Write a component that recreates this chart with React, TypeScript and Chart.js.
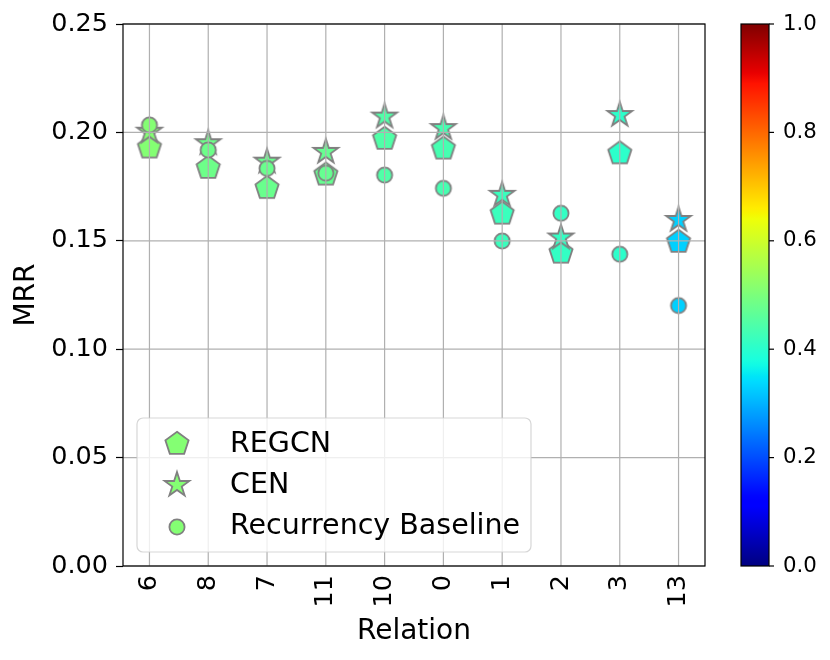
import React, { useEffect, useRef } from 'react';
import { Chart, registerables } from 'chart.js';

Chart.register(...registerables);

const categories = ['6', '8', '7', '11', '10', '0', '1', '2', '3', '13'];
const regcn = [0.193, 0.1836, 0.1743, 0.1805, 0.197, 0.1925, 0.1625, 0.1445, 0.1903, 0.1495];
const cen = [0.2003, 0.195, 0.1865, 0.191, 0.2073, 0.202, 0.1712, 0.1515, 0.208, 0.1596];
const recurrency = [0.2034, 0.1919, 0.1834, 0.1812, 0.1803, 0.1742, 0.1499, 0.1627, 0.1438, 0.1201];
const colorValues = [0.51, 0.483, 0.478, 0.474, 0.447, 0.435, 0.42, 0.412, 0.403, 0.329];
const yTicks = [0, 0.05, 0.1, 0.15, 0.2, 0.25];
const colorbarTicks = [0, 0.2, 0.4, 0.6, 0.8, 1.0];
const seriesNames = ['REGCN', 'CEN', 'Recurrency Baseline'];
const seriesShapes = ['pentagon', 'star', 'circle'];

const FONT = "'DejaVu Sans', sans-serif";

type Seg = [number, number][];
const jetR: Seg = [[0, 0], [0.35, 0], [0.66, 1], [0.89, 1], [1, 0.5]];
const jetG: Seg = [[0, 0], [0.125, 0], [0.375, 1], [0.64, 1], [0.91, 0], [1, 0]];
const jetB: Seg = [[0, 0.5], [0.11, 1], [0.34, 1], [0.65, 0], [1, 0]];

function interp(seg: Seg, v: number) {
  for (let i = 0; i < seg.length - 1; i++) {
    const [x0, y0] = seg[i];
    const [x1, y1] = seg[i + 1];
    if (v >= x0 && v <= x1) return y0 + ((v - x0) / (x1 - x0)) * (y1 - y0);
  }
  return seg[seg.length - 1][1];
}

function jet(v: number) {
  const r = Math.round(interp(jetR, v) * 255);
  const g = Math.round(interp(jetG, v) * 255);
  const b = Math.round(interp(jetB, v) * 255);
  return `rgb(${r},${g},${b})`;
}

function makeMarker(shape: string, fill: string): HTMLCanvasElement {
  const size = 34;
  const c = document.createElement('canvas');
  c.width = size;
  c.height = size;
  const ctx = c.getContext('2d')!;
  ctx.translate(size / 2, size / 2);
  ctx.beginPath();
  if (shape === 'pentagon') {
    const R = 12.2;
    for (let i = 0; i < 5; i++) {
      const a = (-90 + 72 * i) * Math.PI / 180;
      const px = R * Math.cos(a);
      const py = R * Math.sin(a);
      if (i === 0) ctx.moveTo(px, py); else ctx.lineTo(px, py);
    }
    ctx.closePath();
  } else if (shape === 'star') {
    const R = 13;
    const r = R * 0.381966;
    for (let i = 0; i < 10; i++) {
      const a = (-90 + 36 * i) * Math.PI / 180;
      const rr = i % 2 === 0 ? R : r;
      const px = rr * Math.cos(a);
      const py = rr * Math.sin(a);
      if (i === 0) ctx.moveTo(px, py); else ctx.lineTo(px, py);
    }
    ctx.closePath();
  } else {
    ctx.arc(0, 0, 7.6, 0, Math.PI * 2);
  }
  ctx.fillStyle = fill;
  ctx.fill();
  ctx.lineWidth = 1.8;
  ctx.lineJoin = 'miter';
  ctx.strokeStyle = '#808080';
  ctx.stroke();
  return c;
}

export default function App() {
  const ref = useRef<HTMLCanvasElement | null>(null);

  useEffect(() => {
    document.body.style.margin = '0';
    const canvas = ref.current;
    if (!canvas) return;

    const colors = colorValues.map(jet);
    const markers = seriesShapes.map((s) => colors.map((c) => makeMarker(s, c)));
    const seriesData = [regcn, cen, recurrency];

    const overlay = {
      id: 'overlay',
      afterDatasetsDraw(chart: any) {
        const ctx = chart.ctx as CanvasRenderingContext2D;
        const area = chart.chartArea;
        const xs = chart.scales.x;
        const ys = chart.scales.y;
        ctx.save();
        // grid (drawn above markers, as in the reference)
        ctx.strokeStyle = '#b0b0b0';
        ctx.lineWidth = 1.2;
        categories.forEach((_, i) => {
          const px = xs.getPixelForValue(i);
          ctx.beginPath();
          ctx.moveTo(px, area.top);
          ctx.lineTo(px, area.bottom);
          ctx.stroke();
        });
        yTicks.forEach((t) => {
          const py = ys.getPixelForValue(t);
          ctx.beginPath();
          ctx.moveTo(area.left, py);
          ctx.lineTo(area.right, py);
          ctx.stroke();
        });
        // frame
        ctx.strokeStyle = '#000';
        ctx.lineWidth = 1.2;
        ctx.strokeRect(area.left, area.top, area.right - area.left, area.bottom - area.top);

        // legend
        const lx = 137, ly = 418, lw = 394, lh = 134, rad = 6;
        ctx.beginPath();
        ctx.moveTo(lx + rad, ly);
        ctx.lineTo(lx + lw - rad, ly);
        ctx.arcTo(lx + lw, ly, lx + lw, ly + rad, rad);
        ctx.lineTo(lx + lw, ly + lh - rad);
        ctx.arcTo(lx + lw, ly + lh, lx + lw - rad, ly + lh, rad);
        ctx.lineTo(lx + rad, ly + lh);
        ctx.arcTo(lx, ly + lh, lx, ly + lh - rad, rad);
        ctx.lineTo(lx, ly + rad);
        ctx.arcTo(lx, ly, lx + rad, ly, rad);
        ctx.closePath();
        ctx.fillStyle = 'rgba(255,255,255,0.8)';
        ctx.fill();
        ctx.strokeStyle = 'rgba(204,204,204,0.8)';
        ctx.lineWidth = 1.2;
        ctx.stroke();
        const markerY = [444, 485, 527];
        const textY = [451.5, 493, 534];
        ctx.font = `28.5px ${FONT}`;
        ctx.fillStyle = '#000';
        ctx.textAlign = 'left';
        ctx.textBaseline = 'alphabetic';
        seriesNames.forEach((name, k) => {
          const m = markers[k][0];
          ctx.drawImage(m, 177 - m.width / 2, markerY[k] - m.height / 2);
          ctx.fillText(name, 230, textY[k]);
        });

        // colorbar
        const cbL = 741, cbR = 769;
        const cbTop = area.top, cbBot = area.bottom;
        const grad = ctx.createLinearGradient(0, cbBot, 0, cbTop);
        for (let s = 0; s <= 100; s++) grad.addColorStop(s / 100, jet(s / 100));
        ctx.fillStyle = grad;
        ctx.fillRect(cbL, cbTop, cbR - cbL, cbBot - cbTop);
        ctx.strokeStyle = '#000';
        ctx.lineWidth = 1.2;
        ctx.strokeRect(cbL, cbTop, cbR - cbL, cbBot - cbTop);
        ctx.font = `21.3px ${FONT}`;
        ctx.textBaseline = 'middle';
        ctx.fillStyle = '#000';
        colorbarTicks.forEach((t) => {
          const py = cbBot - t * (cbBot - cbTop);
          ctx.beginPath();
          ctx.moveTo(cbR, py);
          ctx.lineTo(cbR + 5, py);
          ctx.stroke();
          ctx.fillText(t.toFixed(1), cbR + 14, py);
        });
        ctx.restore();
      },
    };

    const chart = new Chart(canvas, {
      type: 'scatter',
      data: {
        datasets: seriesNames.map((name, k) => ({
          label: name,
          data: seriesData[k].map((v, i) => ({ x: i, y: v })),
          pointStyle: markers[k] as any,
          pointRadius: 10,
          pointHoverRadius: 10,
          order: 3 - k,
        })),
      },
      options: {
        animation: false,
        responsive: false,
        events: [],
        layout: { padding: { left: 0, right: 125, top: 24, bottom: 0 } },
        plugins: {
          legend: { display: false },
          tooltip: { enabled: false },
        },
        scales: {
          x: {
            type: 'linear',
            min: -0.45,
            max: 9.45,
            afterBuildTicks: (scale: any) => {
              scale.ticks = categories.map((_, i) => ({ value: i }));
            },
            afterFit: (scale: any) => {
              scale.height = 94;
            },
            ticks: {
              autoSkip: false,
              minRotation: 90,
              maxRotation: 90,
              padding: 9,
              color: '#000',
              font: { family: FONT, size: 25.5 },
              callback: (v: any) => categories[Math.round(Number(v))] ?? '',
            },
            grid: { display: false, drawTicks: false },
            border: { display: false },
            title: {
              display: true,
              text: 'Relation',
              color: '#000',
              font: { family: FONT, size: 28 },
              padding: { top: 0, bottom: 11 },
            },
          },
          y: {
            type: 'linear',
            min: 0,
            max: 0.25,
            afterBuildTicks: (scale: any) => {
              scale.ticks = yTicks.map((t) => ({ value: t }));
            },
            afterFit: (scale: any) => {
              scale.width = 123;
            },
            ticks: {
              padding: 8,
              color: '#000',
              font: { family: FONT, size: 25.5 },
              callback: (v: any) => Number(v).toFixed(2),
            },
            grid: {
              display: true,
              drawOnChartArea: false,
              drawTicks: true,
              tickLength: 7,
              tickColor: '#000',
              tickWidth: 1.2,
            },
            border: { display: false },
            title: {
              display: true,
              text: 'MRR',
              color: '#000',
              font: { family: FONT, size: 28 },
              padding: { top: 10, bottom: 0 },
            },
          },
        },
      },
      plugins: [overlay],
    });

    return () => {
      chart.destroy();
    };
  }, []);

  return (
    <div style={{ width: 830, height: 660 }}>
      <canvas ref={ref} width={830} height={660} style={{ display: 'block', width: 830, height: 660 }} />
    </div>
  );
}
